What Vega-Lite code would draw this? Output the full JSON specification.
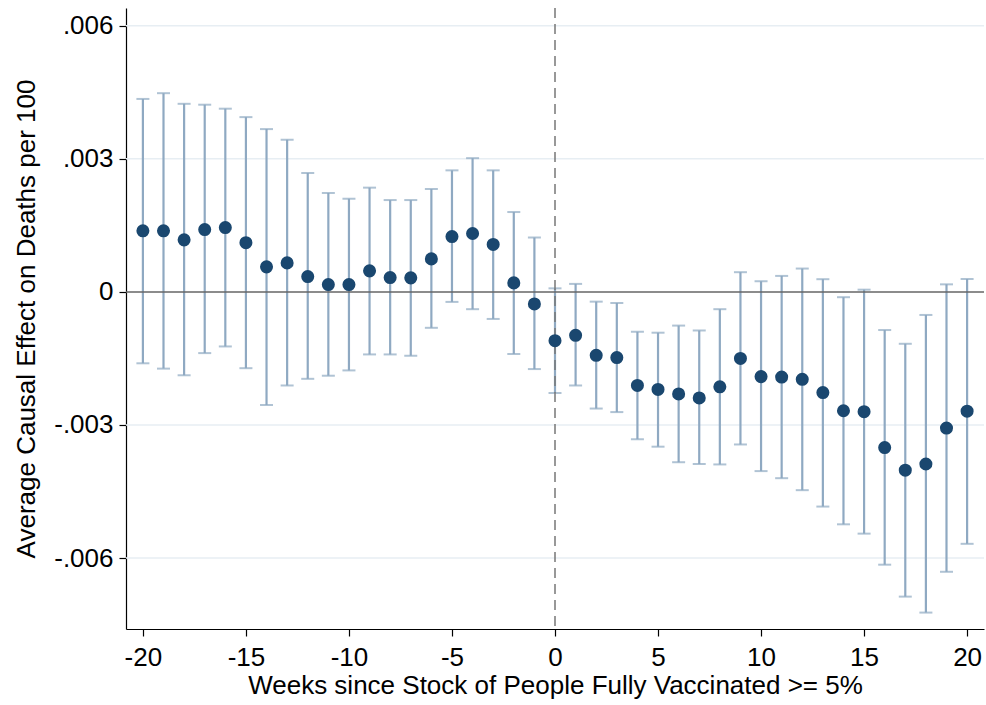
{
  "$schema": "https://vega.github.io/schema/vega-lite/v6.json",
  "width": 858,
  "height": 621,
  "autosize": "none",
  "padding": {"left": 126, "top": 8, "right": 2, "bottom": 76},
  "background": "white",
  "config": {
    "view": {"stroke": null},
    "font": "Liberation Sans",
    "axis": {"labelFont": "Liberation Sans", "titleFont": "Liberation Sans", "labelFontSize": 26, "titleFontSize": 26, "titleFontWeight": "normal", "labelColor": "#000", "titleColor": "#000", "domainColor": "#000", "tickColor": "#000", "domainWidth": 1.2, "tickWidth": 1.2, "tickSize": 7}
  },
  "data": {"values": [
    {"week": -20, "est": 0.001376, "lower": -0.00161, "upper": 0.00435},
    {"week": -19, "est": 0.001376, "lower": -0.00173, "upper": 0.00448},
    {"week": -18, "est": 0.001173, "lower": -0.00188, "upper": 0.00424},
    {"week": -17, "est": 0.001406, "lower": -0.00138, "upper": 0.00422},
    {"week": -16, "est": 0.00145, "lower": -0.00123, "upper": 0.00413},
    {"week": -15, "est": 0.00111, "lower": -0.00172, "upper": 0.00394},
    {"week": -14, "est": 0.000564, "lower": -0.00255, "upper": 0.00367},
    {"week": -13, "est": 0.000654, "lower": -0.00211, "upper": 0.00343},
    {"week": -12, "est": 0.000346, "lower": -0.00196, "upper": 0.00268},
    {"week": -11, "est": 0.000165, "lower": -0.00189, "upper": 0.00223},
    {"week": -10, "est": 0.000165, "lower": -0.00177, "upper": 0.0021},
    {"week": -9, "est": 0.000474, "lower": -0.00141, "upper": 0.00235},
    {"week": -8, "est": 0.000323, "lower": -0.00141, "upper": 0.00207},
    {"week": -7, "est": 0.000316, "lower": -0.00144, "upper": 0.00207},
    {"week": -6, "est": 0.000744, "lower": -0.00081, "upper": 0.00232},
    {"week": -5, "est": 0.001248, "lower": -0.000226, "upper": 0.00274},
    {"week": -4, "est": 0.001316, "lower": -0.00039, "upper": 0.003015},
    {"week": -3, "est": 0.00107, "lower": -0.00061, "upper": 0.00274},
    {"week": -2, "est": 0.000203, "lower": -0.0014, "upper": 0.0018},
    {"week": -1, "est": -0.000271, "lower": -0.00174, "upper": 0.001226},
    {"week": 0, "est": -0.0011, "lower": -0.00228, "upper": 0.00008},
    {"week": 1, "est": -0.000978, "lower": -0.00211, "upper": 0.00018},
    {"week": 2, "est": -0.00143, "lower": -0.00263, "upper": -0.00022},
    {"week": 3, "est": -0.00148, "lower": -0.00271, "upper": -0.00025},
    {"week": 4, "est": -0.00211, "lower": -0.00332, "upper": -0.0009},
    {"week": 5, "est": -0.0022, "lower": -0.00349, "upper": -0.00092},
    {"week": 6, "est": -0.0023, "lower": -0.00384, "upper": -0.00076},
    {"week": 7, "est": -0.00239, "lower": -0.00388, "upper": -0.00087},
    {"week": 8, "est": -0.00214, "lower": -0.00389, "upper": -0.00039},
    {"week": 9, "est": -0.0015, "lower": -0.00344, "upper": 0.000444},
    {"week": 10, "est": -0.00191, "lower": -0.00404, "upper": 0.00024},
    {"week": 11, "est": -0.00192, "lower": -0.0042, "upper": 0.00036},
    {"week": 12, "est": -0.00197, "lower": -0.00447, "upper": 0.000526},
    {"week": 13, "est": -0.00227, "lower": -0.00484, "upper": 0.000286},
    {"week": 14, "est": -0.00268, "lower": -0.00524, "upper": -0.00012},
    {"week": 15, "est": -0.0027, "lower": -0.00545, "upper": 0.00005},
    {"week": 16, "est": -0.00351, "lower": -0.00615, "upper": -0.00086},
    {"week": 17, "est": -0.00402, "lower": -0.00687, "upper": -0.00117},
    {"week": 18, "est": -0.00388, "lower": -0.00723, "upper": -0.00052},
    {"week": 19, "est": -0.00307, "lower": -0.00631, "upper": 0.00017},
    {"week": 20, "est": -0.00269, "lower": -0.00568, "upper": 0.00029}
  ]},
  "encoding": {
    "x": {"field": "week", "type": "quantitative", "scale": {"domain": [-20.82, 20.82], "nice": false, "zero": false},
      "axis": {"values": [-20, -15, -10, -5, 0, 5, 10, 15, 20], "grid": false, "title": "Weeks since Stock of People Fully Vaccinated >= 5%", "labelPadding": 8, "titlePadding": 2, "labelFlush": false,
        "labelExpr": "datum.value < 0 ? '-' + abs(datum.value) : '' + datum.value"}}
  },
  "layer": [
    {
      "data": {"values": [{"v": -0.006}, {"v": -0.003}, {"v": 0.003}, {"v": 0.006}]},
      "mark": {"type": "rule", "color": "#e7eef3", "strokeWidth": 1.5},
      "encoding": {"x": null, "y": {"field": "v", "type": "quantitative"}}
    },
    {
      "mark": {"type": "rule", "color": "#8fa9c2", "strokeWidth": 2.2},
      "encoding": {
        "y": {"field": "lower", "type": "quantitative", "scale": {"domain": [-0.0076, 0.0064], "nice": false, "zero": false},
          "axis": {"values": [-0.006, -0.003, 0, 0.003, 0.006], "grid": false, "title": "Average Causal Effect on Deaths per 100", "labelPadding": 6, "titlePadding": 14,
            "labelExpr": "datum.value == 0 ? '0' : (datum.value < 0 ? '-' : '') + '.00' + round(abs(datum.value) * 1000)"}},
        "y2": {"field": "upper"}
      }
    },
    {
      "mark": {"type": "tick", "orient": "horizontal", "color": "#8fa9c2", "size": 13, "thickness": 2},
      "encoding": {"y": {"field": "upper", "type": "quantitative"}}
    },
    {
      "mark": {"type": "tick", "orient": "horizontal", "color": "#8fa9c2", "size": 13, "thickness": 2},
      "encoding": {"y": {"field": "lower", "type": "quantitative"}}
    },
    {
      "data": {"values": [{"v": 0}]},
      "mark": {"type": "rule", "color": "#666666", "strokeWidth": 1.5},
      "encoding": {"x": null, "y": {"field": "v", "type": "quantitative"}}
    },
    {
      "data": {"values": [{"w": 0}]},
      "mark": {"type": "rule", "color": "#777777", "strokeWidth": 1.5, "strokeDash": [10, 6]},
      "encoding": {"x": {"field": "w", "type": "quantitative"}}
    },
    {
      "mark": {"type": "point", "filled": true, "opacity": 1, "color": "#1a476f", "size": 170},
      "encoding": {"y": {"field": "est", "type": "quantitative"}}
    }
  ]
}
